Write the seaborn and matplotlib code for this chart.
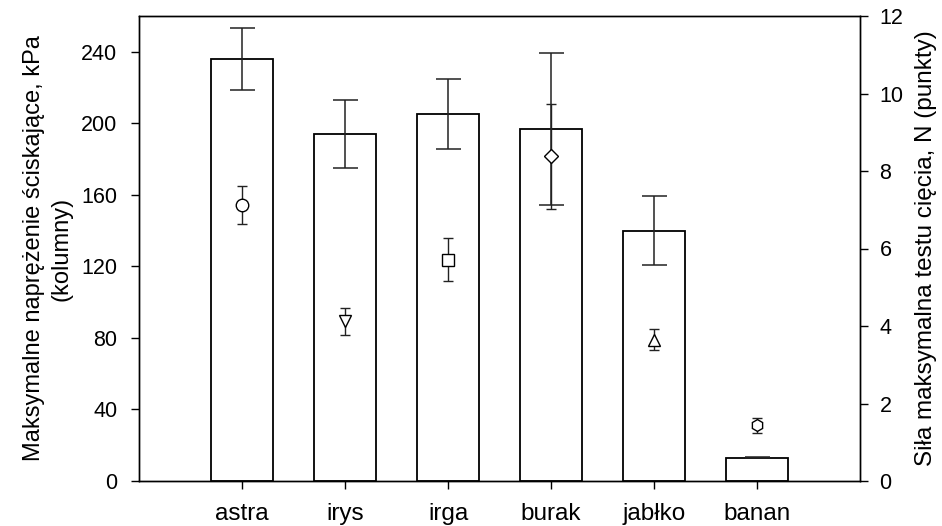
import matplotlib
matplotlib.use("Agg")
import matplotlib.pyplot as plt
import seaborn as sns
import pandas as pd
import numpy as np

# --- data ---
categories = ["astra", "irys", "irga", "burak", "jabłko", "banan"]
stress_kpa = [236, 194, 205, 197, 140, 13]          # columns (left axis)
stress_err = [17.5, 19, 19.5, 42.5, 19.5, 0.4]
force_n = [7.12, 4.12, 5.71, 8.38, 3.65, 1.44]      # points (right axis)
force_err = [0.49, 0.35, 0.56, 1.35, 0.27, 0.19]
markers = ["o", "v", "s", "D", "^", "h"]
marker_sizes = [9, 9, 8, 7, 9, 8.5]

sns.set_theme(style="ticks")
plt.rcParams["font.family"] = ["Liberation Sans", "DejaVu Sans"]
plt.rcParams["text.color"] = "black"
plt.rcParams["axes.labelcolor"] = "black"
plt.rcParams["xtick.color"] = "black"
plt.rcParams["ytick.color"] = "black"

fig = plt.figure(figsize=(9.42, 5.26), dpi=100)
ax = fig.add_axes([139 / 942, 45 / 526, 721 / 942, 465 / 526])

df = pd.DataFrame({"kategoria": categories, "naprezenie": stress_kpa})
sns.barplot(data=df, x="kategoria", y="naprezenie", order=categories, ax=ax,
            color="white", edgecolor="black", linewidth=1.3, width=0.6,
            errorbar=None, zorder=2)
pos = np.arange(len(categories))
ax.errorbar(pos, stress_kpa, yerr=stress_err, fmt="none", ecolor="#222222",
            elinewidth=1.1, capsize=9, capthick=1.1, zorder=3)

ax.set_xlim(-1, len(categories))
ax.set_ylim(0, 260)
ax.set_yticks([0, 40, 80, 120, 160, 200, 240])
ax.set_xlabel("")
ax.set_ylabel("Maksymalne naprężenie ściskające, kPa\n(kolumny)", fontsize=17,
              labelpad=6, linespacing=1.34, color="black")
ax.tick_params(axis="both", direction="out", length=6, width=1, color="black",
               labelcolor="black")
ax.tick_params(axis="y", labelsize=15.5, pad=9.5)
ax.tick_params(axis="x", labelsize=17.5, pad=9.5)

ax2 = ax.twinx()
for i in range(len(categories)):
    ax2.errorbar(pos[i], force_n[i], yerr=force_err[i], fmt=markers[i],
                 markersize=marker_sizes[i], markerfacecolor="white",
                 markeredgecolor="black", markeredgewidth=1.0,
                 ecolor="#222222", elinewidth=1.0, capsize=3.7, capthick=1.0,
                 zorder=4)
ax2.set_ylim(0, 12)
ax2.set_yticks([0, 2, 4, 6, 8, 10, 12])
ax2.set_ylabel("Siła maksymalna testu cięcia, N (punkty)", fontsize=17.5,
               labelpad=8, color="black")
ax2.tick_params(axis="y", direction="out", length=6, width=1, color="black",
                labelcolor="black", labelsize=15.5, pad=8)

for a in (ax, ax2):
    for s in a.spines.values():
        s.set_color("black")
        s.set_linewidth(1.0)
        s.set_visible(True)

fig.savefig("out.png", dpi=100, facecolor="white")
